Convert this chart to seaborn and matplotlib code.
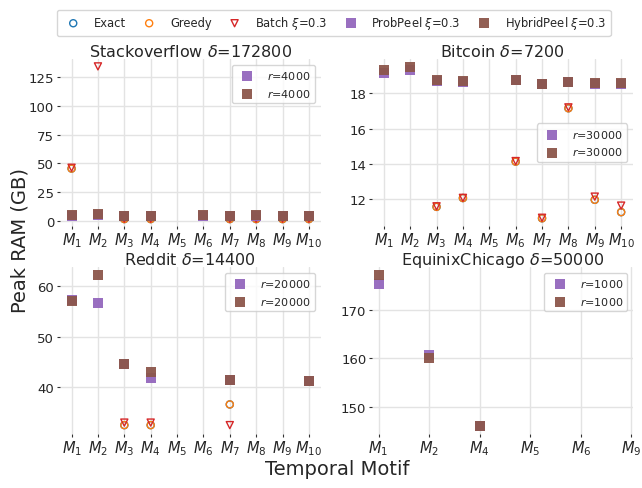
import numpy as np
import pandas as pd
import matplotlib.pyplot as plt
import seaborn as sns

nan = np.nan

# ---- data ----
methods = ["Exact", "Greedy", r"Batch $\xi$=0.3", r"ProbPeel $\xi$=0.3", r"HybridPeel $\xi$=0.3"]
motifs10 = [r"$M_{%d}$" % i for i in range(1, 11)]
motifs_eq = [r"$M_{1}$", r"$M_{2}$", r"$M_{4}$", r"$M_{5}$", r"$M_{6}$", r"$M_{9}$"]

# Stackoverflow delta=172800, r=4000
so_exact = [45.5, nan, 1.6, 1.6, nan, nan, 1.6, 1.6, 1.6, 1.6]
so_greedy = [45.5, nan, 1.6, 1.6, nan, nan, 1.6, 1.6, 1.6, 1.6]
so_batch = [46.2, 134.3, 1.9, 1.9, nan, nan, 1.9, 1.9, 1.9, 1.9]
so_prob = [4.4, 5.0, 3.9, 4.2, nan, 4.6, 3.9, 4.5, 4.0, 3.9]
so_hybrid = [5.2, 6.0, 4.3, 4.5, nan, 5.4, 4.2, 4.8, 4.3, 4.2]

# Bitcoin delta=7200, r=30000
bc_exact = [nan, nan, 11.55, 12.05, nan, 14.12, 10.90, 17.15, 11.95, 11.25]
bc_greedy = [nan, nan, 11.55, 12.05, nan, 14.12, 10.90, 17.15, 11.95, 11.25]
bc_batch = [nan, nan, 11.58, 12.06, nan, 14.15, 10.93, 17.20, 12.13, 11.62]
bc_prob = [19.15, 19.35, 18.70, 18.65, nan, 18.75, 18.50, 18.64, 18.55, 18.55]
bc_hybrid = [19.31, 19.47, 18.74, 18.69, nan, 18.76, 18.51, 18.67, 18.57, 18.57]

# Reddit delta=14400, r=20000
rd_exact = [nan, nan, 32.5, 32.5, nan, nan, 36.6, nan, nan, nan]
rd_greedy = [nan, nan, 32.5, 32.5, nan, nan, 36.6, nan, nan, nan]
rd_batch = [nan, nan, 33.0, 33.0, nan, nan, 32.5, nan, nan, nan]
rd_prob = [57.3, 56.7, 44.7, 41.9, nan, nan, 41.4, nan, nan, 41.3]
rd_hybrid = [57.0, 62.2, 44.7, 43.0, nan, nan, 41.4, nan, nan, 41.3]

# EquinixChicago delta=50000, r=1000 (only M1, M2, M4 have values)
eq_exact = [nan, nan, nan]
eq_greedy = [nan, nan, nan]
eq_batch = [nan, nan, nan]
eq_prob = [175.3, 160.7, 146.0]
eq_hybrid = [177.1, 160.1, 146.0]

panels = [
    (r"Stackoverflow $\delta$=172800", "4000", motifs10,
     [so_exact, so_greedy, so_batch, so_prob, so_hybrid], "upper right", (-4.6, 140.6)),
    (r"Bitcoin $\delta$=7200", "30000", motifs10,
     [bc_exact, bc_greedy, bc_batch, bc_prob, bc_hybrid], "center right", (10.45, 19.94)),
    (r"Reddit $\delta$=14400", "20000", motifs10,
     [rd_exact, rd_greedy, rd_batch, rd_prob, rd_hybrid], "upper right", (30.7, 63.8)),
    (r"EquinixChicago $\delta$=50000", "1000", motifs_eq,
     [eq_exact, eq_greedy, eq_batch, eq_prob, eq_hybrid], "upper right", (144.4, 178.7)),
]

colors = ["#1f77b4", "#ff7f0e", "#d62728", "#9467bd", "#8c564b"]
markers = ["o", "o", "v", "s", "s"]

sns.set_theme(style="whitegrid", context="notebook")
plt.rcParams["font.family"] = ["DejaVu Sans"]
plt.rcParams["grid.color"] = "#e3e3e3"
plt.rcParams["grid.linewidth"] = 1.0

fig, axes = plt.subplots(2, 2, figsize=(6.42, 4.89), dpi=100)
fig.subplots_adjust(left=0.093, right=0.986, bottom=0.11, top=0.877, wspace=0.196, hspace=0.245)

for ax, (title, r, labels, series, loc, ylim) in zip(axes.flat, panels):
    n = len(series[0])
    offset = 1 if n == 10 else 0
    pos = np.arange(n) + offset
    for name, vals, c, m in zip(methods, series, colors, markers):
        df = pd.DataFrame({"pos": pos, "ram": vals})
        if m == "s":
            sns.scatterplot(data=df, x="pos", y="ram", ax=ax, marker=m, s=42, color=c,
                            linewidth=0, alpha=0.95, legend=False, label=name, zorder=3)
        else:
            sns.scatterplot(data=df, x="pos", y="ram", ax=ax, marker=m, s=26, color=c,
                            facecolor="none", edgecolor=c, linewidth=1.0, legend=False,
                            label=name, zorder=3)
    if n == 10:
        ax.set_xticks(range(1, 11))
        ax.set_xticklabels(labels)
        ax.set_xlim(0.55, 10.45)
    else:
        ax.set_xticks(range(len(labels)))
        ax.set_xticklabels(labels)
        ax.set_xlim(-0.13, 5.03)
    ax.set_ylim(*ylim)
    ax.set_xlabel("")
    ax.set_ylabel("")
    ax.set_title(title, fontsize=11.5, pad=2)
    ax.tick_params(axis="x", labelsize=10.5, bottom=True, length=2.5, width=0.8, color="0.2", pad=0.5)
    ax.tick_params(axis="y", labelsize=9.5, left=True, length=2.5, width=0.8, color="0.2", pad=1.5)
    sns.despine(ax=ax, left=True, bottom=True)
    h, l = ax.get_legend_handles_labels()
    ax.legend(h[-2:], [r"$r$=%s" % r] * 2, loc=loc, fontsize=8, frameon=True)

handles, labs = axes[0, 0].get_legend_handles_labels()
fig.legend(handles, labs, loc="upper center", bbox_to_anchor=(0.52, 0.99), ncol=5,
           fontsize=8.3, frameon=True, columnspacing=1.0)

fig.text(0.031, 0.509, "Peak RAM (GB)", rotation=90, ha="center", va="center", fontsize=14)
fig.text(0.525, 0.04, "Temporal Motif", ha="center", va="center", fontsize=14)

fig.savefig("out.png", dpi=100)
